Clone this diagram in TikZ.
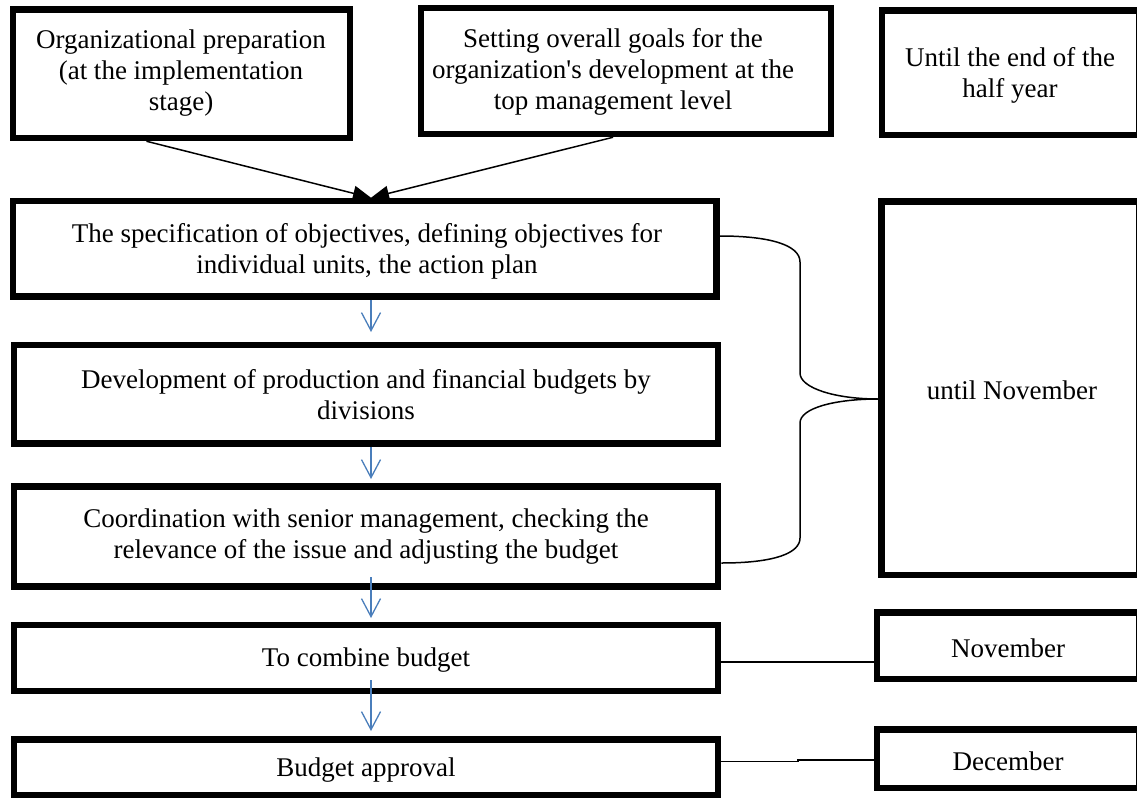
\documentclass[tikz,border=0pt]{standalone}
\usepackage{fontspec}
\setmainfont{Liberation Serif}
\usetikzlibrary{arrows.meta,calc}
\definecolor{arrowblue}{HTML}{4A7EBB}
\begin{document}
\begin{tikzpicture}[x=1pt,y=-1pt,
  box/.style={draw=black, line width=6.5pt, rectangle, inner sep=0pt},
  txt/.style={align=center, font=\fontsize{27}{31}\selectfont, inner sep=0pt},
  blk/.style={line width=1.5pt, -{Triangle[length=18pt,width=15pt]}},
  blu/.style={draw=arrowblue, line width=1.3pt, -{Straight Barb[length=18pt,width=19pt]}},
  thinline/.style={line width=1.5pt}]
\useasboundingbox (0,0) rectangle (1137,798);

% boxes
\node[box, minimum width=337pt, minimum height=128.5pt] (b1) at (181.5,73.75) {};
\node[box, minimum width=410pt, minimum height=126pt] (b2) at (626,71) {};
\node[box, minimum width=257pt, minimum height=124.5pt] (b3) at (1010.5,72.75) {};
\node[box, minimum width=703.5pt, minimum height=95.5pt] (A) at (364.75,248.75) {};
\node[box, minimum width=704pt, minimum height=98.5pt] (B) at (366,394.25) {};
\node[box, minimum width=704pt, minimum height=100pt] (C) at (366,536.5) {};
\node[box, minimum width=704pt, minimum height=66pt] (D) at (366,658) {};
\node[box, minimum width=704pt, minimum height=55.5pt] (E) at (366,767.25) {};
\node[box, minimum width=257.5pt, minimum height=373.5pt] (UN) at (1010.25,388.25) {};
\node[box, minimum width=262pt, minimum height=66.5pt] (Nov) at (1008,645.75) {};
\node[box, minimum width=262pt, minimum height=58.5pt] (Dec) at (1008,758.75) {};

% texts
\node[txt] (t1) at (181,73) {Organizational preparation\\(at the implementation\\stage)};
\node[txt] (t2) at (613,72) {Setting overall goals for the\\organization\textquotesingle s development at the\\top management level};
\node[txt] (t3) at (1010,75) {Until the end of the\\half year};
\node[txt] (tA) at (367,251) {The specification of objectives, defining objectives for\\individual units, the action plan};
\node[txt] (tB) at (366,395) {Development of production and financial budgets by\\divisions};
\node[txt] (tC) at (366,537) {Coordination with senior management, checking the\\relevance of the issue and adjusting the budget};
\node[txt] (tD) at (366,660) {To combine budget};
\node[txt] (tE) at (366,770) {Budget approval};
\node[txt] (tUN) at (1012,390) {until November};
\node[txt] (tNov) at (1008,648) {November};
\node[txt] (tDec) at (1008,761) {December};

% black arrows
\coordinate (meet) at ($(A.north west)!0.5088!(A.north east)$);
\draw[blk] ($(b1.south west)!0.398!(b1.south east)$) -- (meet);
\draw[blk] ($(b2.south west)!0.469!(b2.south east)$) -- (meet);

% blue arrows
\coordinate (a1) at (371,332);
\coordinate (a2) at (371,479);
\coordinate (s3) at (371,577);
\coordinate (a3) at (371,618);
\coordinate (s4) at (371,680);
\coordinate (a4) at (371,731);
\draw[blu] (A.south -| a1) -- (a1);
\draw[blu] (B.south -| a2) -- (a2);
\draw[blu] (s3) -- (a3);
\draw[blu] (s4) -- (a4);

% brace to "until November"
\draw[thinline] (A.east |- 0,236) .. controls (770,236) and (800,245) .. (800,262)
  -- (800,373) .. controls (800,388) and (835,399) .. (UN.west |- 0,399);
\draw[thinline] (UN.west |- 0,399) .. controls (835,399) and (800,408) .. (800,423)
  -- (800,538) .. controls (800,553) and (775,563) .. (C.east |- 0,563);

% lines to month boxes
\draw[thinline] (D.east |- 0,662) -- (Nov.west |- 0,662);
\draw[thinline] (E.east |- 0,761.7) -- (798,761.7) -- (798,760) -- (Dec.west |- 0,760);
\end{tikzpicture}
\end{document}
